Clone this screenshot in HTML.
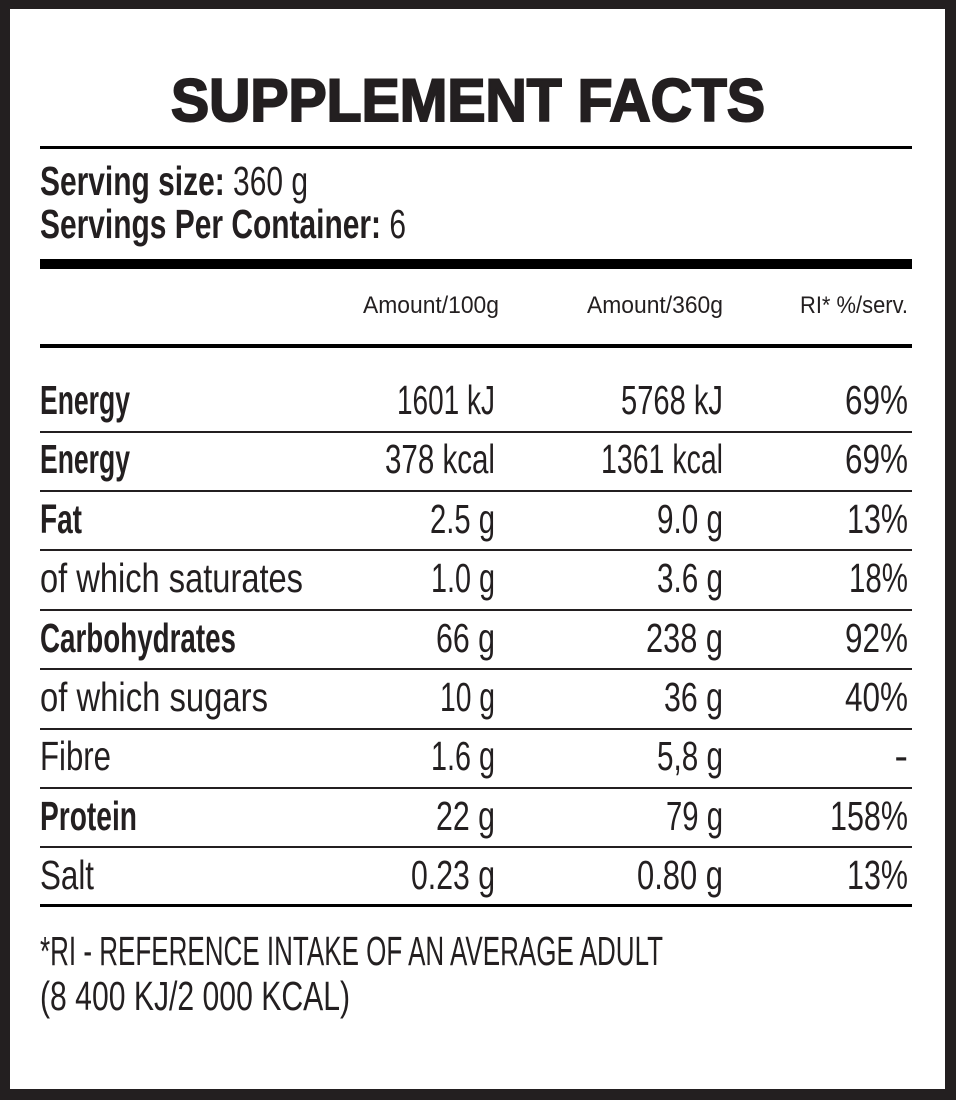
<!DOCTYPE html>
<html><head><style>html,body{margin:0;padding:0;background:#fff}svg{display:block}</style></head><body>
<svg width="956" height="1100" viewBox="0 0 956 1100" xmlns="http://www.w3.org/2000/svg" font-family="Liberation Sans, sans-serif" fill="#231f20">
<rect x="0" y="0" width="956" height="1100" fill="#231f20"/>
<rect x="10" y="9" width="935" height="1080" fill="#fff"/>
<text x="171" y="121" font-size="60" font-weight="bold" stroke="#231f20" stroke-width="2" textLength="594" lengthAdjust="spacingAndGlyphs">SUPPLEMENT FACTS</text>
<rect x="40" y="146" width="872" height="3" fill="#000"/>
<text x="40" y="195" font-size="41" lengthAdjust="spacingAndGlyphs" textLength="268"><tspan font-weight="bold">Serving size:</tspan> 360 g</text>
<text x="40" y="238" font-size="41" lengthAdjust="spacingAndGlyphs" textLength="366"><tspan font-weight="bold">Servings Per Container:</tspan> 6</text>
<rect x="40" y="259" width="872" height="10" fill="#000"/>
<g font-size="24" text-anchor="end">
<text x="499" y="313" textLength="136" lengthAdjust="spacingAndGlyphs">Amount/100g</text>
<text x="723" y="313" textLength="136" lengthAdjust="spacingAndGlyphs">Amount/360g</text>
<text x="908" y="313" textLength="108" lengthAdjust="spacingAndGlyphs">RI* %/serv.</text>
</g>
<rect x="40" y="344" width="872" height="4" fill="#000"/>
<g fill="#231f20">
<rect x="40" y="431" width="872" height="2"/>
<rect x="40" y="490" width="872" height="2"/>
<rect x="40" y="549" width="872" height="2"/>
<rect x="40" y="609" width="872" height="2"/>
<rect x="40" y="668" width="872" height="2"/>
<rect x="40" y="728" width="872" height="2"/>
<rect x="40" y="787" width="872" height="2"/>
<rect x="40" y="846" width="872" height="2"/>
<rect x="40" y="904" width="872" height="3" fill="#000"/>
</g>
<g font-size="41" lengthAdjust="spacingAndGlyphs">
<text x="40" y="414" font-weight="bold" textLength="90" lengthAdjust="spacingAndGlyphs">Energy</text>
<text x="40" y="473" font-weight="bold" textLength="90" lengthAdjust="spacingAndGlyphs">Energy</text>
<text x="40" y="533" font-weight="bold" textLength="42" lengthAdjust="spacingAndGlyphs">Fat</text>
<text x="40" y="592" textLength="263" lengthAdjust="spacingAndGlyphs">of which saturates</text>
<text x="40" y="652" font-weight="bold" textLength="196" lengthAdjust="spacingAndGlyphs">Carbohydrates</text>
<text x="40" y="711" textLength="228" lengthAdjust="spacingAndGlyphs">of which sugars</text>
<text x="40" y="770" textLength="71" lengthAdjust="spacingAndGlyphs">Fibre</text>
<text x="40" y="830" font-weight="bold" textLength="97" lengthAdjust="spacingAndGlyphs">Protein</text>
<text x="40" y="889" textLength="54" lengthAdjust="spacingAndGlyphs">Salt</text>
</g>
<g font-size="41" text-anchor="end">
<text x="495" y="414" textLength="98" lengthAdjust="spacingAndGlyphs">1601 kJ</text>
<text x="723" y="414" textLength="102" lengthAdjust="spacingAndGlyphs">5768 kJ</text>
<text x="908" y="414" textLength="63" lengthAdjust="spacingAndGlyphs">69%</text>
<text x="495" y="473" textLength="110" lengthAdjust="spacingAndGlyphs">378 kcal</text>
<text x="723" y="473" textLength="122" lengthAdjust="spacingAndGlyphs">1361 kcal</text>
<text x="908" y="473" textLength="63" lengthAdjust="spacingAndGlyphs">69%</text>
<text x="495" y="533" textLength="65" lengthAdjust="spacingAndGlyphs">2.5 g</text>
<text x="723" y="533" textLength="66" lengthAdjust="spacingAndGlyphs">9.0 g</text>
<text x="908" y="533" textLength="61" lengthAdjust="spacingAndGlyphs">13%</text>
<text x="495" y="592" textLength="64" lengthAdjust="spacingAndGlyphs">1.0 g</text>
<text x="723" y="592" textLength="66" lengthAdjust="spacingAndGlyphs">3.6 g</text>
<text x="908" y="592" textLength="59" lengthAdjust="spacingAndGlyphs">18%</text>
<text x="495" y="652" textLength="59" lengthAdjust="spacingAndGlyphs">66 g</text>
<text x="723" y="652" textLength="77" lengthAdjust="spacingAndGlyphs">238 g</text>
<text x="908" y="652" textLength="63" lengthAdjust="spacingAndGlyphs">92%</text>
<text x="495" y="711" textLength="55" lengthAdjust="spacingAndGlyphs">10 g</text>
<text x="723" y="711" textLength="59" lengthAdjust="spacingAndGlyphs">36 g</text>
<text x="908" y="711" textLength="63" lengthAdjust="spacingAndGlyphs">40%</text>
<text x="495" y="770" textLength="64" lengthAdjust="spacingAndGlyphs">1.6 g</text>
<text x="723" y="770" textLength="66" lengthAdjust="spacingAndGlyphs">5,8 g</text>
<text x="908" y="770">-</text>
<text x="495" y="830" textLength="59" lengthAdjust="spacingAndGlyphs">22 g</text>
<text x="723" y="830" textLength="57" lengthAdjust="spacingAndGlyphs">79 g</text>
<text x="908" y="830" textLength="78" lengthAdjust="spacingAndGlyphs">158%</text>
<text x="495" y="889" textLength="84" lengthAdjust="spacingAndGlyphs">0.23 g</text>
<text x="723" y="889" textLength="86" lengthAdjust="spacingAndGlyphs">0.80 g</text>
<text x="908" y="889" textLength="61" lengthAdjust="spacingAndGlyphs">13%</text>
</g>
<text x="40" y="965" font-size="41" textLength="623" lengthAdjust="spacingAndGlyphs">*RI - REFERENCE INTAKE OF AN AVERAGE ADULT</text>
<text x="40" y="1010" font-size="41" textLength="310" lengthAdjust="spacingAndGlyphs">(8 400 KJ/2 000 KCAL)</text>
</svg>
</body></html>
